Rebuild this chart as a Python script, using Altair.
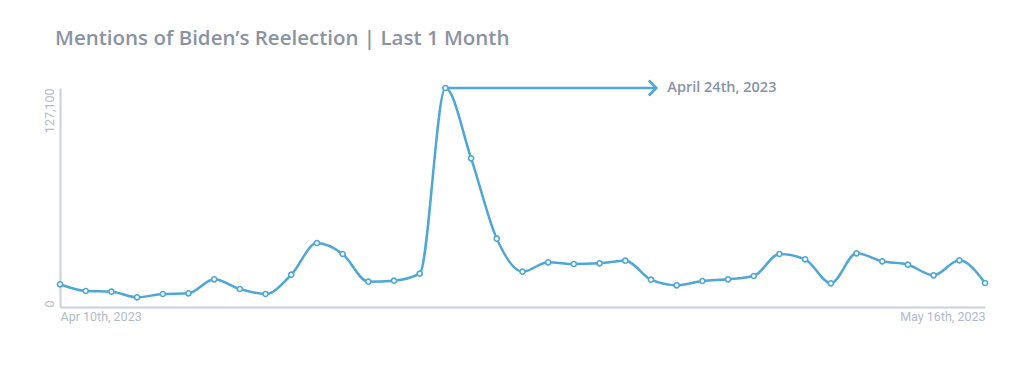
import altair as alt
import pandas as pd

dates = pd.date_range("2023-04-10", "2023-05-16", freq="D").strftime("%Y-%m-%d").tolist()
mentions = [13175, 9286, 8880, 5630, 7545, 7951, 16076, 10447, 7545, 18746,
            37144, 30760, 14683, 15264, 19326, 127100, 86301, 39639, 20487, 25943,
            24956, 25362, 26871, 15844, 12594, 15090, 16076, 17991, 30760, 27684,
            13755, 31166, 26523, 24550, 18398, 27103, 13929]
y_ticks = [0, 127100]

annot_start = ["2023-04-25"]
annot_end = ["2023-05-03T05:00:00"]
annot_value = [127100]
annot_label = ["April 24th, 2023"]

BLUE = "#4ea7d6"
GRAY = "#8a93a3"
LIGHT = "#b3bacb"
AXIS = "#c9cfdf"

df = pd.DataFrame({"date": dates, "mentions": mentions})
ann = pd.DataFrame({"start": annot_start, "end": annot_end,
                    "value": annot_value, "label": annot_label})

x_axis = alt.Axis(
    values=[alt.DateTime(year=2023, month=4, date=10, utc=True),
            alt.DateTime(year=2023, month=5, date=16, utc=True)],
    labelExpr="utcFormat(datum.value, '%b ') + utcdate(datum.value) + 'th, ' + utcFormat(datum.value, '%Y')",
    labelFlush=True, grid=False, ticks=False, domainColor=AXIS, domainWidth=2,
    labelColor=LIGHT, labelFont="Roboto", labelFontSize=12.5, labelPadding=3, title=None,
)
y_axis = alt.Axis(
    values=y_ticks, labelExpr="format(datum.value, ',')", labelAngle=270,
    labelAlign={"condition": {"test": "datum.value == 0", "value": "left"}, "value": "right"},
    labelBaseline="bottom",
    grid=False, ticks=False, domainColor=AXIS, domainWidth=2,
    labelColor=LIGHT, labelFont="Roboto", labelFontSize=12.5, labelPadding=4, title=None,
)

x_scale = alt.Scale(type="utc", domain=[alt.DateTime(year=2023, month=4, date=10, utc=True),
                                        alt.DateTime(year=2023, month=5, date=16, utc=True)])
y_scale = alt.Scale(domain=[0, 127100], nice=False)

base = alt.Chart(df).encode(
    x=alt.X("date:T", scale=x_scale, axis=x_axis),
    y=alt.Y("mentions:Q", scale=y_scale, axis=y_axis),
)
line = base.mark_line(interpolate="monotone", color=BLUE, strokeWidth=2.5)
pts = base.mark_point(shape="circle", filled=True, fill="white", stroke=BLUE,
                      strokeWidth=1.6, size=26, opacity=1)

rule = alt.Chart(ann).mark_rule(color=BLUE, strokeWidth=2.5).encode(
    x=alt.X("start:T", scale=x_scale, axis=x_axis), x2="end:T",
    y=alt.Y("value:Q", scale=y_scale, axis=y_axis))
head = alt.Chart(ann).mark_point(shape="M-1,-1L0,0L-1,1", filled=False, stroke=BLUE,
                                 strokeWidth=2.5, size=225, opacity=1).encode(
    x=alt.X("end:T", scale=x_scale, axis=x_axis), y=alt.Y("value:Q", scale=y_scale, axis=y_axis))
label = alt.Chart(ann).mark_text(align="left", baseline="middle", dx=11, font="Open Sans",
                                 fontWeight=600, fontSize=14.5, color=GRAY).encode(
    x=alt.X("end:T", scale=x_scale, axis=x_axis), y=alt.Y("value:Q", scale=y_scale, axis=y_axis),
    text="label:N")

chart = alt.layer(line, rule, pts, head, label).properties(
    width=925, height=219,
    autosize=alt.AutoSizeParams(type="none"),
    padding={"left": 52, "top": 80, "right": 31, "bottom": 53},
    title=alt.TitleParams("Mentions of Biden’s Reelection | Last 1 Month", anchor="start",
                          frame="group", dx=-5, offset=10, baseline="alphabetic",
                          font="Open Sans", fontSize=20.5, fontWeight=600, color=GRAY),
).configure_view(stroke=None)

chart.save("out.html", embed_options={"renderer": "svg", "actions": False})
